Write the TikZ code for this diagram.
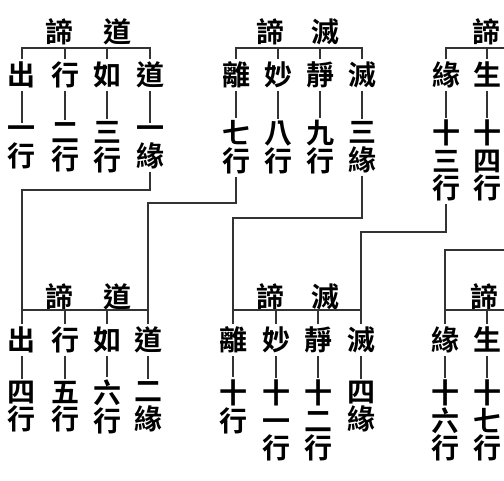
\documentclass[tikz,border=0pt]{standalone}
\usepackage{fontspec}
\newfontfamily\cjk{Noto Sans CJK TC}[BoldFont={Noto Sans CJK TC Bold}]
\usepackage{tikz}
\usetikzlibrary{calc}
\newcommand\zstrut{\rule[-1.5pt]{0pt}{13pt}}
\tikzset{
	hanzi/.style={inner sep=1pt,font=\cjk\bfseries\fontsize{14}{13.75}\selectfont,execute at begin node=\zstrut},
	stack/.style={hanzi,align=center},
	link/.style={line width=0.6pt,black!80}
}

\begin{document}
\begin{tikzpicture}[x=0.5pt,y=-0.5pt]
	\useasboundingbox (0,0) rectangle (504,481);
	% top row
	\coordinate (tb) at (0,48);
	\node[hanzi] (ta1) at (60,32) {諦};
	\node[hanzi] (ta2) at (118,32) {道};
	\node[hanzi] (th11) at (22,75) {出};
	\node[hanzi] (th12) at (65,75) {行};
	\node[hanzi] (th13) at (107,75) {如};
	\node[hanzi] (th14) at (150,75) {道};
	\node[stack] (ts11) at (22,147.5) {一\\行};
	\node[stack] (ts12) at (65,147.5) {二\\行};
	\node[stack] (ts13) at (107,147.5) {三\\行};
	\node[stack] (ts14) at (150,147.5) {一\\緣};
	
	\node[hanzi] (tc1) at (270,32) {諦};
	\node[hanzi] (tc2) at (325,32) {滅};
	\node[hanzi] (th21) at (236,75) {離};
	\node[hanzi] (th22) at (278,75) {妙};
	\node[hanzi] (th23) at (320,75) {靜};
	\node[hanzi] (th24) at (362,75) {滅};
	\node[stack] (ts21) at (236,147.5) {七\\行};
	\node[stack] (ts22) at (278,147.5) {八\\行};
	\node[stack] (ts23) at (320,147.5) {九\\行};
	\node[stack] (ts24) at (362,147.5) {三\\緣};
	
	\node[hanzi] (td1) at (486,32) {諦};
	\node[hanzi] (th31) at (446,75) {緣};
	\node[hanzi] (th32) at (487,75) {生};
	\node[stack] (ts31) at (446,161) {十\\三\\行};
	\node[stack] (ts32) at (487,161) {十\\四\\行};
	\coordinate (te) at (504,48);
	
	\draw[link] (th11.north) -- (th11.north |- tb) -- (th14.north |- tb) -- (th14.north);
	\draw[link] (th12.north) -- (th12.north |- tb);
	\draw[link] (th13.north) -- (th13.north |- tb);
	\draw[link] (th21.north) -- (th21.north |- tb) -- (th24.north |- tb) -- (th24.north);
	\draw[link] (th22.north) -- (th22.north |- tb);
	\draw[link] (th23.north) -- (th23.north |- tb);
	\draw[link] (th31.north) -- (th31.north |- tb) -- (te);
	\draw[link] (th32.north) -- (th32.north |- tb);
	\draw[link] (th11) -- (ts11);
	\draw[link] (th12) -- (ts12);
	\draw[link] (th13) -- (ts13);
	\draw[link] (th14) -- (ts14);
	\draw[link] (th21) -- (ts21);
	\draw[link] (th22) -- (ts22);
	\draw[link] (th23) -- (ts23);
	\draw[link] (th24) -- (ts24);
	\draw[link] (th31) -- (ts31);
	\draw[link] (th32) -- (ts32);
	
	% bottom row
	\coordinate (bb) at (0,310);
	\node[hanzi] (ba1) at (60,297) {諦};
	\node[hanzi] (ba2) at (118,297) {道};
	\node[hanzi] (bh11) at (22,340) {出};
	\node[hanzi] (bh12) at (65,340) {行};
	\node[hanzi] (bh13) at (107,340) {如};
	\node[hanzi] (bh14) at (148,340) {道};
	\node[stack] (bs11) at (22,407) {四\\行};
	\node[stack] (bs12) at (65,407) {五\\行};
	\node[stack] (bs13) at (107,407) {六\\行};
	\node[stack] (bs14) at (148,407) {二\\緣};
	
	\node[hanzi] (bc1) at (270,297) {諦};
	\node[hanzi] (bc2) at (325,297) {滅};
	\node[hanzi] (bh21) at (233,340) {離};
	\node[hanzi] (bh22) at (276,340) {妙};
	\node[hanzi] (bh23) at (318,340) {靜};
	\node[hanzi] (bh24) at (361,340) {滅};
	\node[stack] (bs21) at (233,407) {十\\行};
	\node[stack] (bs22) at (276,421) {十\\一\\行};
	\node[stack] (bs23) at (318,421) {十\\二\\行};
	\node[stack] (bs24) at (361,407) {四\\緣};
	
	\node[hanzi] (bd1) at (484,297) {諦};
	\node[hanzi] (bh31) at (445,340) {緣};
	\node[hanzi] (bh32) at (487,340) {生};
	\node[stack] (bs31) at (445,421) {十\\六\\行};
	\node[stack] (bs32) at (487,421) {十\\七\\行};
	\coordinate (be) at (504,310);
	
	\draw[link] (bh11.north) -- (bh11.north |- bb) -- (bh14.north |- bb) -- (bh14.north);
	\draw[link] (bh12.north) -- (bh12.north |- bb);
	\draw[link] (bh13.north) -- (bh13.north |- bb);
	\draw[link] (bh21.north) -- (bh21.north |- bb) -- (bh24.north |- bb) -- (bh24.north);
	\draw[link] (bh22.north) -- (bh22.north |- bb);
	\draw[link] (bh23.north) -- (bh23.north |- bb);
	\draw[link] (bh31.north) -- (bh31.north |- bb) -- (be);
	\draw[link] (bh32.north) -- (bh32.north |- bb);
	\draw[link] (bh11) -- (bs11);
	\draw[link] (bh12) -- (bs12);
	\draw[link] (bh13) -- (bs13);
	\draw[link] (bh14) -- (bs14);
	\draw[link] (bh21) -- (bs21);
	\draw[link] (bh22) -- (bs22);
	\draw[link] (bh23) -- (bs23);
	\draw[link] (bh24) -- (bs24);
	\draw[link] (bh31) -- (bs31);
	\draw[link] (bh32) -- (bs32);
	
	% links between the rows
	\coordinate (j1) at (0,190);
	\coordinate (j2) at (0,203);
	\coordinate (j3) at (0,218);
	\coordinate (j4) at (0,232);
	\coordinate (j5) at (504,250);
	\draw[link] (ts14.south) -- (ts14.south |- j1) -- (bh11.north |- j1) -- (bh11.north |- bb);
	\draw[link] (ts21.south) -- (ts21.south |- j2) -- (bh14.north |- j2) -- (bh14.north |- bb);
	\draw[link] (ts24.south) -- (ts24.south |- j3) -- (bh21.north |- j3) -- (bh21.north |- bb);
	\draw[link] (ts31.south) -- (ts31.south |- j4) -- (bh24.north |- j4) -- (bh24.north |- bb);
	\draw[link] (j5) -- (bh31.north |- j5) -- (bh31.north |- bb);
\end{tikzpicture}
\end{document}
